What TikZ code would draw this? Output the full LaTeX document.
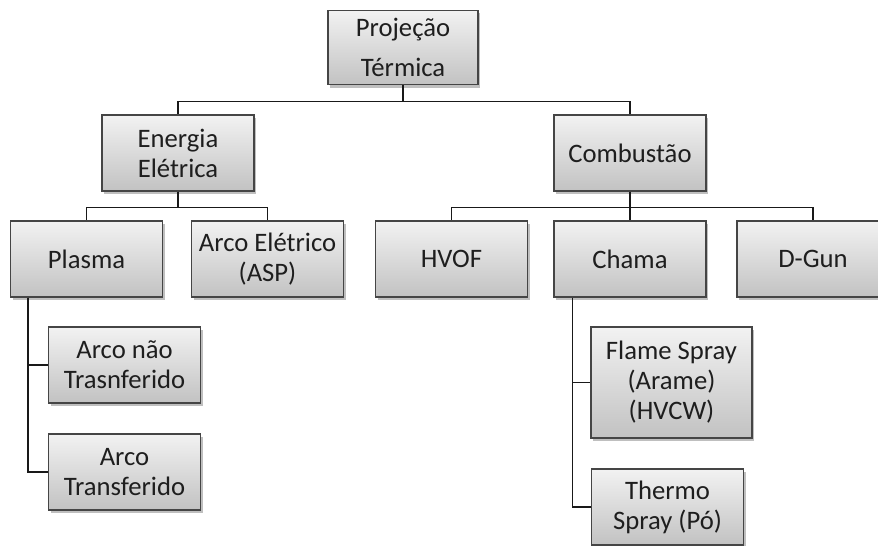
\documentclass[tikz,border=0pt]{standalone}
\usepackage{fontspec}
\setmainfont{Carlito}
\usepackage{tikz}
\usepackage{xcolor}
\usetikzlibrary{positioning, calc, shadows}
\definecolor{darktext}{HTML}{1E1E1E}
\definecolor{boxedge}{HTML}{454545}
\definecolor{boxtop}{HTML}{F2F2F2}
\definecolor{boxbot}{HTML}{C2C2C2}
\newcommand{\boxfont}{\fontsize{20}{22.5}\selectfont}

\begin{document}
\begin{tikzpicture}[x=0.75pt, y=-0.75pt,
            box/.style={draw=boxedge, line width=0.9pt, top color=boxtop, bottom color=boxbot,
                minimum width=114pt, minimum height=57pt, inner sep=2pt, align=center,
                font=\boxfont, text=darktext,
                drop shadow={shadow xshift=1.5pt, shadow yshift=-2pt, fill=black, opacity=0.25}},
            conn/.style={black!90, line width=1.3pt}]
            \clip (0,0) rectangle (878,546);
            % Top level
            \node[box, minimum width=112.5pt, minimum height=56pt] (proj) at (403,47.5) {Projeção\\[7pt]Térmica};
            \node[box] (ener) at (178,153) {Energia\\Elétrica};
            \node[box] (comb) at (630,153) {Combustão};
            % Energia Eletrica
            \node[box] (plasma) at (86.5,259) {Plasma};
            \node[box] (asp) at (267.5,259) {Arco Elétrico\\(ASP)};
            \node[box] (naotr) at (124.5,365) {Arco não\\Trasnferido};
            \node[box] (transf) at (124.5,472) {Arco\\Transferido};
            % Combustao
            \node[box] (hvof) at (451.5,259) {HVOF};
            \node[box] (chama) at (630,259) {Chama};
            \node[box] (dgun) at (813,259) {D-Gun};
            \node[box, minimum width=120.75pt, minimum height=83.25pt] (flame) at (671.5,382.5) {Flame Spray\\(Arame)\\(HVCW)};
            \node[box] (thermo) at (667.5,507) {Thermo\\Spray (Pó)};
            % Connectors
            \foreach \a/\b in {proj/ener, proj/comb, ener/plasma, ener/asp, comb/hvof, comb/chama, comb/dgun} {
                \draw[conn] (\a.south) -- ++(0,16) -| (\b.north);
            }
            \coordinate (plbus) at ($(plasma.south west)+(18,0)$);
            \coordinate (chbus) at ($(chama.south west)+(19,0)$);
            \draw[conn] (plbus) |- (naotr.west);
            \draw[conn] (plbus) |- (transf.west);
            \draw[conn] (chbus) |- (flame.west);
            \draw[conn] (chbus) |- (thermo.west);
        \end{tikzpicture}
\end{document}
